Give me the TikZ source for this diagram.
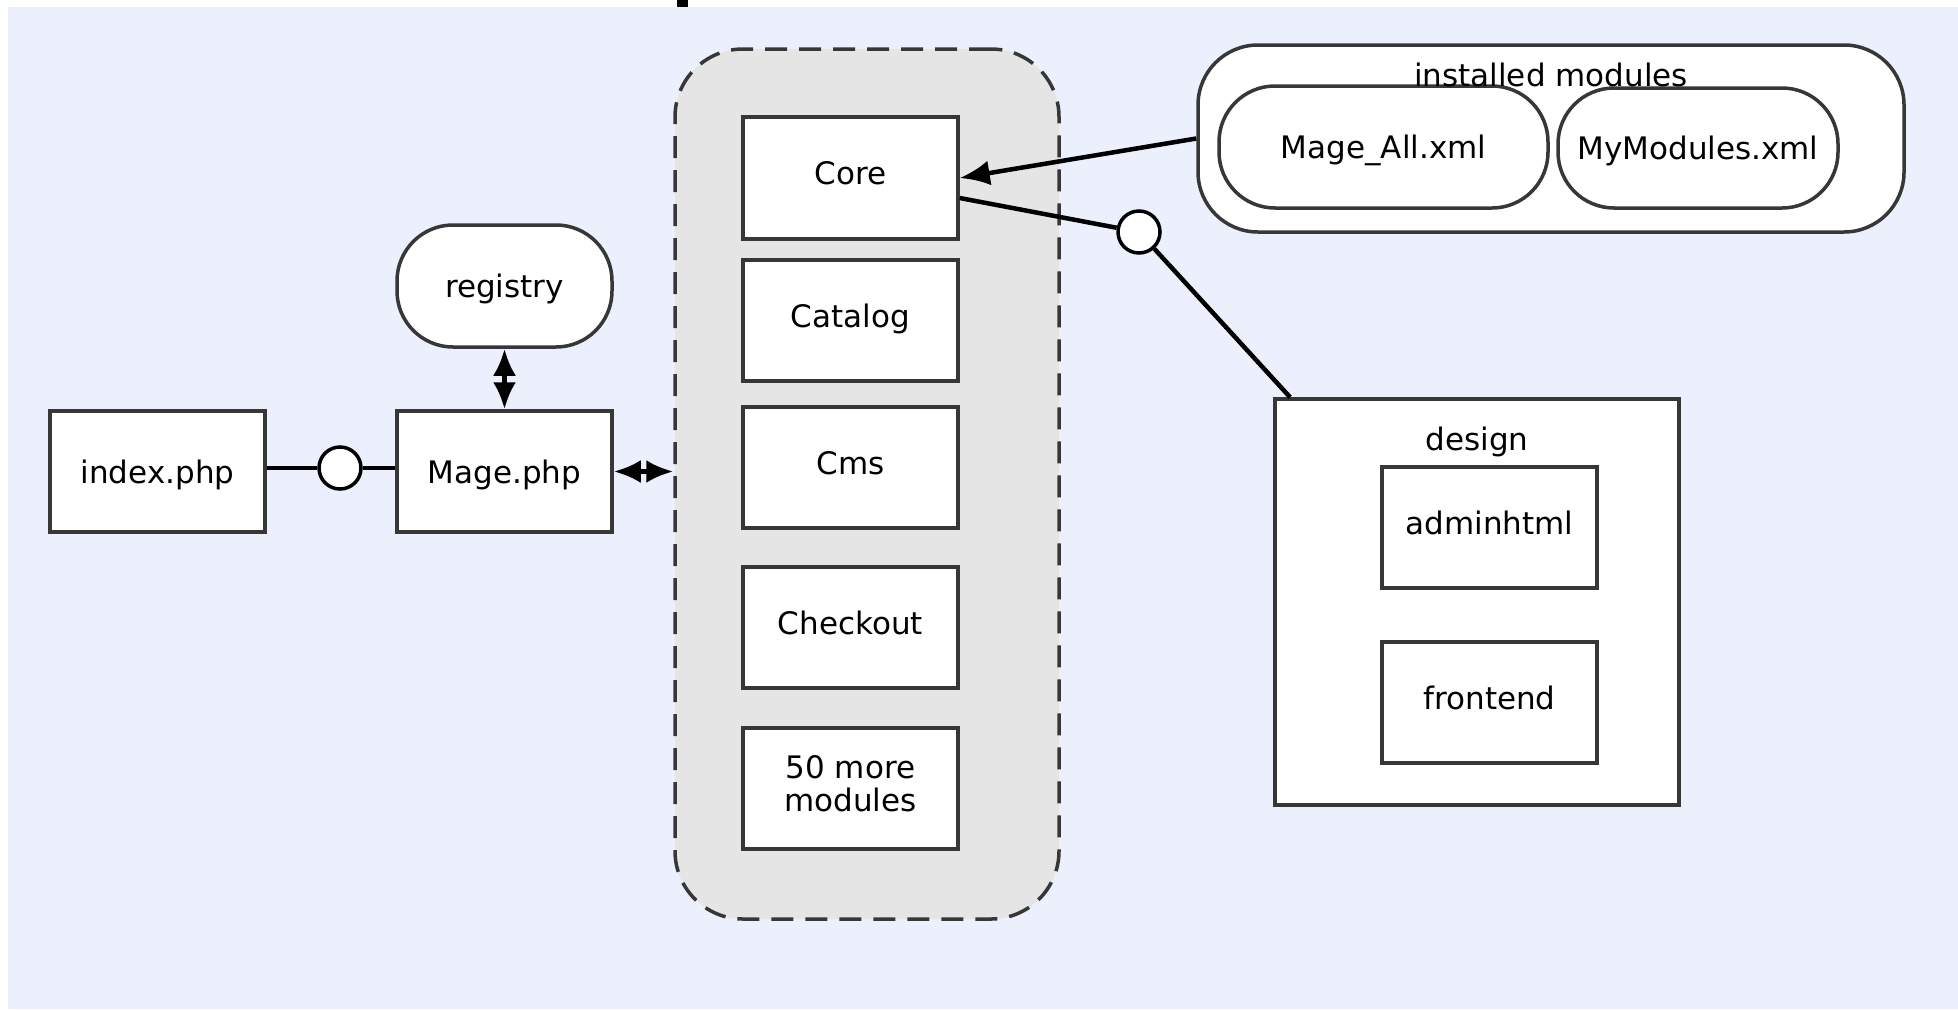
\documentclass[tikz,border=0pt]{standalone}
\usepackage{fontspec}
\setmainfont{DejaVu Sans}
\usetikzlibrary{arrows.meta}
\definecolor{bgblue}{RGB}{236,240,253}
\definecolor{groupgray}{RGB}{229,229,229}
\definecolor{edgecol}{RGB}{55,55,55}
\newcommand{\dfont}{\fontsize{31}{36}\selectfont}
\tikzset{
  boxnode/.style={draw=edgecol, line width=3.5pt, fill=white, inner sep=0pt,
    font=\dfont, text height=23pt, text depth=0pt,
    minimum width=215pt, minimum height=121pt},
  modbox/.style={boxnode, text depth=10pt},
  pillnode/.style={boxnode, rounded corners=56pt},
  lolli/.style={circle, draw=black, line width=3.5pt, fill=white, minimum size=42pt, inner sep=0pt},
  conn/.style={draw=black, line width=4.5pt},
  dbl/.style={conn, {Latex[length=27pt,width=23pt]}-{Latex[length=27pt,width=23pt]}},
  sgl/.style={conn, -{Latex[length=30pt,width=25pt]}},
  grouplabel/.style={font=\dfont, inner sep=0pt, anchor=base}
}
\begin{document}
\begin{tikzpicture}[x=1pt,y=-1pt]
\useasboundingbox (0,0) rectangle (1958,1009);
\fill[bgblue] (8,7) rectangle (1958,1009);
\fill[black] (677,0) rectangle (688,7);

% left part
\node[boxnode] (index) at (157.5,471.5) {index.php};
\node[boxnode] (mage) at (504.5,471.5) {Mage.php};
\node[pillnode, minimum height=122pt] (registry) at (504.5,286) {registry};
\node[lolli] (idxcirc) at (340,468) {};

% module container
\node[draw=edgecol, line width=3.5pt, dash pattern=on 22pt off 12pt, fill=groupgray,
      rounded corners=68pt, minimum width=384pt, minimum height=870pt, inner sep=0pt]
      (container) at (867,484) {};
\node[modbox, minimum height=122pt] (core) at (850.5,178) {Core};
\node[modbox] (catalog) at (850.5,320.5) {Catalog};
\node[modbox] (cms) at (850.5,467.5) {Cms};
\node[modbox] (checkout) at (850.5,627.5) {Checkout};
\node[boxnode, text height=, text depth=, font=\fontsize{31}{31}\selectfont]
      (more) at (850.5,788.5)
      {\raisebox{4pt}{\begin{tabular}{@{}c@{}}50 more\\modules\end{tabular}}};

% installed modules
\node[boxnode, rounded corners=60pt, minimum width=706pt, minimum height=187pt]
      (installed) at (1551,138.5) {};
\node[pillnode, minimum width=329pt, minimum height=122pt] (mageall) at (1383.5,147) {Mage\_All.xml};
\node[pillnode, minimum width=280pt, minimum height=120pt] (mymod) at (1698,148) {MyModules.xml};
\node[grouplabel] (instlabel) at (1551,86) {installed modules};

% design
\node[boxnode, minimum width=404pt, minimum height=406pt] (design) at (1477,602) {};
\node[grouplabel] (designlabel) at (1477,450) {design};
\node[modbox] (admin) at (1489.5,527.5) {adminhtml};
\node[modbox] (front) at (1489.5,702.5) {frontend};
\node[lolli] (corecirc) at (1139,232) {};

% connectors
\draw[conn] (index.east |- idxcirc.center) -- (idxcirc);
\draw[conn] (idxcirc) -- (mage.west |- idxcirc.center);
\draw[dbl] (registry) -- (mage);
\draw[dbl] (mage.east) -- (mage.east -| container.west);
\draw[sgl] (installed.west) -- (core.east);
\draw[conn] ([yshift=-20pt]core.east) -- (corecirc);
\draw[conn] (corecirc) -- (design);
\end{tikzpicture}
\end{document}
